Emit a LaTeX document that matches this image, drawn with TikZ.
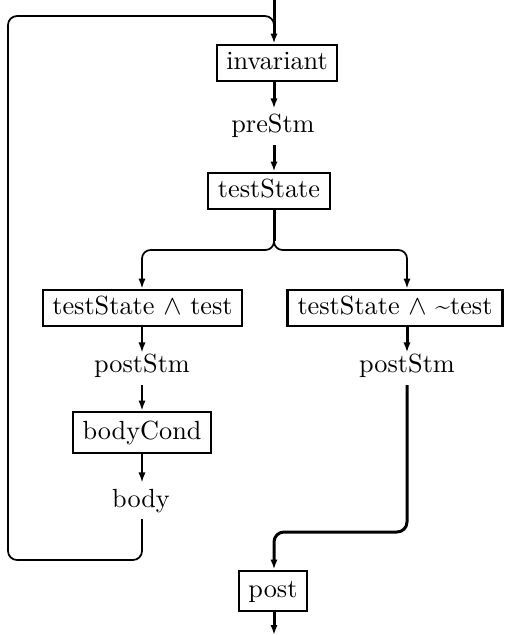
\documentclass[tikz,border=0pt]{standalone}
\usetikzlibrary{arrows.meta}
\begin{document}
\begin{tikzpicture}[x=0.4pt,y=-0.4pt,
  font=\fontsize{10.5}{12}\selectfont,
  box/.style={draw,line width=1.15pt,inner sep=0pt,text height=7.3pt,text depth=2pt},
  lbl/.style={inner sep=0pt,text height=7.3pt,text depth=2pt},
  tip/.style={-{Latex[length=4pt,width=2.9pt]}},
  heavy/.style={line width=1.2pt},
  light/.style={line width=0.7pt}]
\useasboundingbox (0,0) rectangle (505,635);

% spines of the three columns
\coordinate (mx) at (274,0);
\coordinate (lx) at (142,0);
\coordinate (rx) at (407,0);

% nodes
\node[box,minimum width=48pt,minimum height=14.4pt] (inv) at (277,63) {invariant};
\node[lbl] (pre) at (273,126) {preStm};
\node[box,minimum width=48.8pt,minimum height=14.4pt] (ts) at (269,191) {testState};
\node[box,minimum width=79.6pt,minimum height=14.4pt] (tt) at (142.5,308) {testState $\wedge$ test};
\node[box,minimum width=86pt,minimum height=14.4pt] (tn) at (395,308) {testState $\wedge$ \~{}test};
\node[lbl] (pl) at (142,366) {postStm};
\node[lbl] (pr) at (407,366) {postStm};
\node[box,minimum width=55.2pt,minimum height=16.4pt] (bc) at (142,432.5) {bodyCond};
\node[lbl] (bd) at (141,501) {body};
\node[box,minimum width=27.2pt,minimum height=16pt] (po) at (273,591) {post};

\coordinate (top) at (274,0);
\coordinate (bot) at (274,635);
\coordinate (split) at (274,241);

% loop back from the body to the invariant
\draw[light,rounded corners=3.6pt] (bd.south -| lx) ++(0,6) -- (142,560) -- (8,560) -- (8,16) -- (274,16) -- (274,40);

% main spine
\draw[heavy,tip] (top) -- (inv.north -| mx);
\draw[heavy,tip] (inv.south -| mx) -- ++(0,26);
\draw[heavy,tip] (pre.south -| mx) ++(0,7) -- (ts.north -| mx);
\draw[heavy] (ts.south -| mx) -- (split);

% the two branches
\draw[light,rounded corners=3.4pt,tip] (ts.south -| mx) -- (274,250) -- (142,250) -- (tt.north -| lx);
\draw[light,rounded corners=3.4pt,tip] (ts.south -| mx) -- (274,250) -- (407,250) -- (tn.north -| rx);

% left column
\draw[light,tip] (tt.south -| lx) -- ++(0,25);
\draw[light,tip] (pl.south -| lx) ++(0,7) -- (bc.north -| lx);
\draw[light,tip] (bc.south -| lx) -- ++(0,28);

% right column
\draw[heavy,tip] (tn.south -| rx) -- ++(0,25);
\draw[heavy,rounded corners=4pt,tip] (pr.south -| rx) ++(0,7) -- (407,532) -- (274,532) -- (po.north -| mx);

% exit
\draw[heavy,tip] (po.south -| mx) -- (bot);
\end{tikzpicture}
\end{document}
